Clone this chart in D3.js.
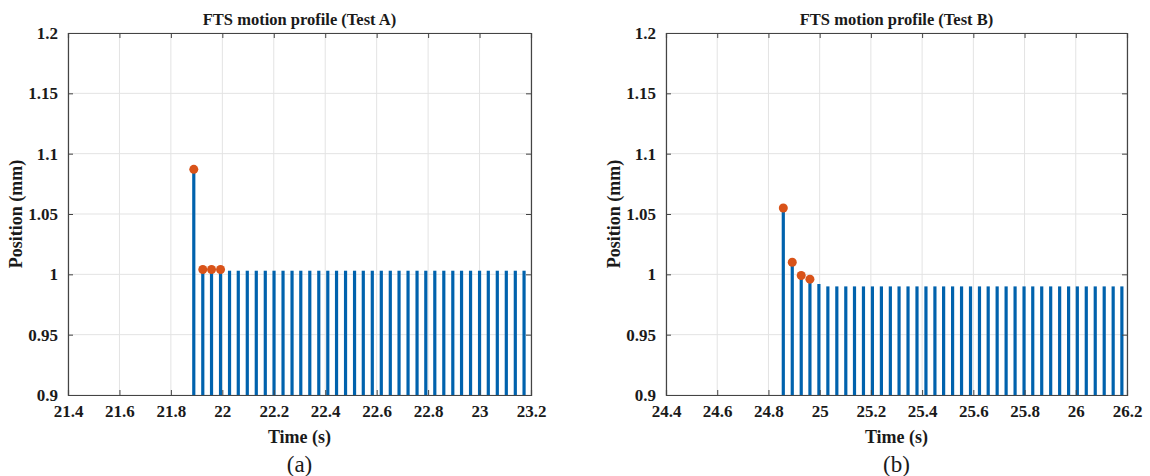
<!DOCTYPE html>
<html>
<head>
<meta charset="utf-8">
<script src="https://cdn.jsdelivr.net/npm/d3@7"></script>
<style>
  body { margin: 0; background: #fff; }
  svg { font-family: "Liberation Serif", "Times New Roman", serif; }
</style>
</head>
<body>
<svg id="chart" width="1150" height="476"></svg>
<script>
// Test A samples
var timesA = [21.889, 21.924, 21.958, 21.993, 22.028, 22.062, 22.097, 22.132, 22.167, 22.201,
  22.236, 22.271, 22.305, 22.340, 22.375, 22.410, 22.444, 22.479, 22.514, 22.548,
  22.583, 22.618, 22.653, 22.687, 22.722, 22.757, 22.791, 22.826, 22.861, 22.896,
  22.930, 22.965, 23.000, 23.034, 23.069, 23.104, 23.139, 23.173]
var posA = [1.087, 1.004, 1.004, 1.004, 1.003, 1.003, 1.003, 1.003, 1.003, 1.003,
  1.003, 1.003, 1.003, 1.003, 1.003, 1.003, 1.003, 1.003, 1.003, 1.003,
  1.003, 1.003, 1.003, 1.003, 1.003, 1.003, 1.003, 1.003, 1.003, 1.003,
  1.003, 1.003, 1.003, 1.003, 1.003, 1.003, 1.003, 1.003]
var markedA = 4

// Test B samples
var timesB = [24.858, 24.893, 24.928, 24.962, 24.997, 25.032, 25.067, 25.102, 25.136, 25.171,
  25.206, 25.241, 25.276, 25.310, 25.345, 25.380, 25.415, 25.450, 25.484, 25.519,
  25.554, 25.589, 25.624, 25.658, 25.693, 25.728, 25.763, 25.798, 25.832, 25.867,
  25.902, 25.937, 25.972, 26.006, 26.041, 26.076, 26.111, 26.146, 26.180]
var posB = [1.055, 1.010, 0.999, 0.996, 0.992, 0.990, 0.990, 0.990, 0.990, 0.990,
  0.990, 0.990, 0.990, 0.990, 0.990, 0.990, 0.990, 0.990, 0.990, 0.990,
  0.990, 0.990, 0.990, 0.990, 0.990, 0.990, 0.990, 0.990, 0.990, 0.990,
  0.990, 0.990, 0.990, 0.990, 0.990, 0.990, 0.990, 0.990, 0.990]
var markedB = 4

var xTicksA = [21.4, 21.6, 21.8, 22, 22.2, 22.4, 22.6, 22.8, 23, 23.2]
var xTicksB = [24.4, 24.6, 24.8, 25, 25.2, 25.4, 25.6, 25.8, 26, 26.2]
var yTicks = [0.9, 0.95, 1, 1.05, 1.1, 1.15, 1.2]

var svg = d3.select('#chart')
var serif = '"Liberation Serif", "Times New Roman", serif'

function drawPanel (opts) {
  var x = d3.scaleLinear().domain(opts.xDomain).range([opts.left, opts.right])
  var y = d3.scaleLinear().domain([0.9, 1.2]).range([opts.bottom, opts.top])
  var g = svg.append('g')

  // grid
  g.selectAll('.vgrid').data(opts.xTicks).enter().append('line')
    .attr('x1', function(d){return x(d)}).attr('x2', function(d){return x(d)})
    .attr('y1', opts.top).attr('y2', opts.bottom)
    .attr('stroke', '#e3e3e3').attr('stroke-width', 1)
  g.selectAll('.hgrid').data(yTicks).enter().append('line')
    .attr('x1', opts.left).attr('x2', opts.right)
    .attr('y1', function(d){return y(d)}).attr('y2', function(d){return y(d)})
    .attr('stroke', '#e3e3e3').attr('stroke-width', 1)

  // stems
  var data = opts.times.map(function(t, i){return {t: t, v: opts.pos[i], i: i}})
  g.selectAll('.stem').data(data).enter().append('line')
    .attr('x1', function(d){return x(d.t)}).attr('x2', function(d){return x(d.t)})
    .attr('y1', y(0.9)).attr('y2', function(d){return y(d.v)})
    .attr('stroke', '#0062ad').attr('stroke-width', 3.2)

  g.selectAll('.dot').data(data.slice(0, opts.marked)).enter().append('circle')
    .attr('cx', function(d){return x(d.t)})
    .attr('cy', function(d){return y(d.v)})
    .attr('r', 4.5)
    .attr('fill', '#d95319')

  // axes (MATLAB style box, ticks inward)
  var fmt = function(d){return d3.format('')(+d.toFixed(2))}
  var axes = [
    g.append('g').attr('transform', 'translate(0,' + opts.bottom + ')')
      .call(d3.axisBottom(x).tickValues(opts.xTicks).tickSize(-5).tickPadding(10).tickFormat(fmt)),
    g.append('g').attr('transform', 'translate(0,' + opts.top + ')')
      .call(d3.axisTop(x).tickValues(opts.xTicks).tickSize(-5).tickFormat('')),
    g.append('g').attr('transform', 'translate(' + opts.left + ',0)')
      .call(d3.axisLeft(y).tickValues(yTicks).tickSize(-5).tickPadding(10).tickFormat(fmt)),
    g.append('g').attr('transform', 'translate(' + opts.right + ',0)')
      .call(d3.axisRight(y).tickValues(yTicks).tickSize(-5).tickFormat(''))
  ]
  axes.forEach(function(a){
    a.attr('font-family', serif).attr('font-size', 17).attr('font-weight', 'bold')
  })

  g.selectAll('.domain').attr('stroke', '#444').attr('stroke-width', 1.2)
  g.selectAll('.tick line').attr('stroke', '#444')
  g.selectAll('.tick text').attr('fill', '#1a1a1a')

  var cx = (opts.left + opts.right) / 2
  g.append('text').attr('x', cx).attr('y', 25)
    .attr('text-anchor', 'middle').attr('font-size', 16.5).attr('font-weight', 'bold')
    .attr('fill', '#1a1a1a').text(opts.title)
  g.append('text').attr('x', cx).attr('y', 443)
    .attr('text-anchor', 'middle').attr('font-size', 18).attr('font-weight', 'bold')
    .attr('fill', '#1a1a1a').text('Time (s)')
  g.append('text').attr('x', cx).attr('y', 472)
    .attr('text-anchor', 'middle').attr('font-size', 23)
    .attr('fill', '#1a1a1a').text(opts.caption)
  g.append('text')
    .attr('transform', 'translate(' + (opts.left - 46) + ',' + ((opts.top + opts.bottom) / 2) + ') rotate(-90)')
    .attr('text-anchor', 'middle').attr('font-size', 18).attr('font-weight', 'bold')
    .attr('fill', '#1a1a1a').text('Position (mm)')
}

drawPanel({
  xDomain: [21.4, 23.2], xTicks: xTicksA, times: timesA, pos: posA, marked: markedA,
  left: 68, right: 531, top: 33, bottom: 395,
  title: 'FTS motion profile (Test A)', caption: '(a)'
})
drawPanel({
  xDomain: [24.4, 26.2], xTicks: xTicksB, times: timesB, pos: posB, marked: markedB,
  left: 666, right: 1127, top: 33, bottom: 395,
  title: 'FTS motion profile (Test B)', caption: '(b)'
})
</script>
</body>
</html>
